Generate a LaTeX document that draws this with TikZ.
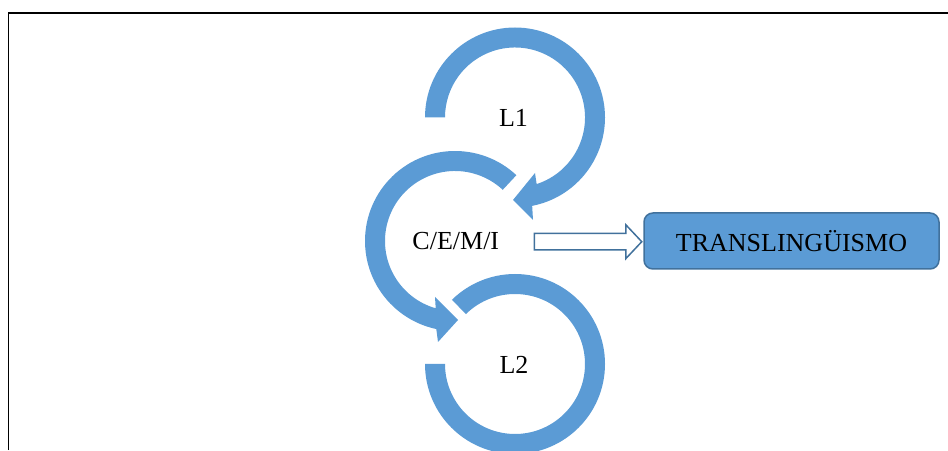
\documentclass[tikz,border=0pt]{standalone}
\usepackage{fontspec}
\setmainfont{Liberation Serif}
\usetikzlibrary{calc}
\definecolor{accentblue}{HTML}{5B9BD5}
\definecolor{edgeblue}{HTML}{41719C}
\begin{document}
\begin{tikzpicture}[x=1pt,y=1pt,
  band/.style={fill=accentblue, draw=none},
  cyclelabel/.style={font=\fontsize{26}{30}\selectfont, anchor=base, inner sep=0pt},
  resultbox/.style={draw=edgeblue, fill=accentblue, line width=1.5pt,
    rounded corners=9pt, minimum width=295pt, minimum height=56pt,
    inner sep=0pt, font=\fontsize{26}{30}\selectfont},
  blockarrow/.style={draw=edgeblue, fill=white, line width=1.5pt, line join=miter}]
\useasboundingbox (0,0) rectangle (948,450);

% frame edges
\draw[line width=1.8pt, line join=miter] (8.5,0) -- (8.5,437.2) -- (948,437.2);

% centres of the three rings
\coordinate (c1) at (515,332.5);
\coordinate (c2) at (455,209);
\coordinate (c3) at (515,86);

% ring L1: clockwise from the left, arrowhead at lower right
\fill[band] ([shift={(180:90pt)}]c1) arc[start angle=180, end angle=-79, radius=90pt]
  -- (533,230) -- (513,250) -- (535,277)
  -- ([shift={(-72:70pt)}]c1) arc[start angle=-72, end angle=180, radius=70pt] -- cycle;

% ring C/E/M/I: counter-clockwise from upper right, arrowhead at bottom
\fill[band] ([shift={(47:90pt)}]c2) arc[start angle=47, end angle=258, radius=90pt]
  -- (438,108) -- (458,130) -- (435,153)
  -- ([shift={(254:70pt)}]c2) arc[start angle=254, end angle=47, radius=70pt] -- cycle;

% ring L2: open ring without arrowhead
\fill[band] ([shift={(180:90pt)}]c3) arc[start angle=180, end angle=494.5, radius=90pt]
  -- ([shift={(134.5:70pt)}]c3) arc[start angle=494.5, end angle=180, radius=70pt] -- cycle;

% labels
\node[cyclelabel] (l1) at (513.5,323) {L1};
\node[cyclelabel] (cemi) at (455.8,200) {C/E/M/I};
\node[cyclelabel] (l2) at (514,76) {L2};

% result box
\node[resultbox] (trans) at (791.5,209) {TRANSLINGÜISMO};

% hollow block arrow towards the result box
\coordinate (tip) at ($(trans.west)+(-1.5,-0.7)$);
\draw[blockarrow] ($(tip)+(-107.5,-8.3)$) -- ($(tip)+(-16,-8.3)$) -- ($(tip)+(-16,-17)$)
  -- (tip) -- ($(tip)+(-16,17)$) -- ($(tip)+(-16,8.3)$) -- ($(tip)+(-107.5,8.3)$) -- cycle;
\end{tikzpicture}
\end{document}
